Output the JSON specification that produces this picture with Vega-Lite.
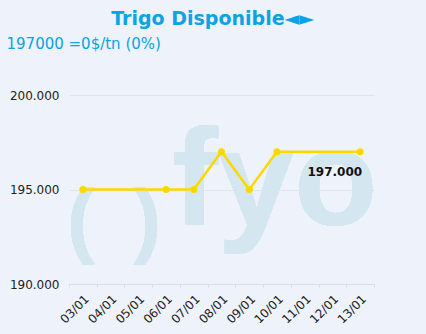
{
  "$schema": "https://vega.github.io/schema/vega-lite/v6.json",
  "autosize": "none",
  "width": 305,
  "height": 189,
  "padding": {"left": 69, "top": 95, "right": 52, "bottom": 50},
  "background": "#eef2fa",
  "title": {
    "text": "Trigo Disponible◄►",
    "frame": "group",
    "anchor": "middle",
    "baseline": "alphabetic",
    "offset": 0,
    "dx": -9,
    "dy": 8,
    "font": "DejaVu Sans",
    "fontSize": 19,
    "fontWeight": "bold",
    "color": "#0aa3e3"
  },
  "data": {
    "values": [
      {"date": "03/01", "price": 195000},
      {"date": "06/01", "price": 195000},
      {"date": "07/01", "price": 195000},
      {"date": "08/01", "price": 197000},
      {"date": "09/01", "price": 195000},
      {"date": "10/01", "price": 197000},
      {"date": "13/01", "price": 197000}
    ]
  },
  "encoding": {
    "x": {
      "field": "date",
      "type": "ordinal",
      "scale": {"type": "band", "paddingInner": 0, "paddingOuter": 0,
        "domain": ["03/01","04/01","05/01","06/01","07/01","08/01","09/01","10/01","11/01","12/01","13/01"]},
      "axis": {
        "title": null,
        "labelAngle": -45,
        "tickBand": "extent",
        "tickSize": 3,
        "tickColor": "#dcdcdc",
        "domainColor": "#dcdcdc",
        "grid": false,
        "labelFont": "DejaVu Sans",
        "labelFontSize": 12,
        "labelColor": "#222222",
        "labelPadding": 6
      }
    },
    "y": {
      "field": "price",
      "type": "quantitative",
      "scale": {"domain": [190000, 200000], "nice": false, "zero": false},
      "axis": {
        "title": "197000 =0$/tn (0%)",
        "titleAngle": 0,
        "titleAlign": "left",
        "titleBaseline": "alphabetic",
        "titleX": -63,
        "titleY": -47,
        "titleFont": "DejaVu Sans",
        "titleFontSize": 15,
        "titleFontWeight": "normal",
        "titleColor": "#0aa3e3",
        "values": [190000, 195000, 200000],
        "format": ",.0f",
        "domain": false,
        "ticks": false,
        "grid": true,
        "gridColor": "#e2e4ea",
        "labelFont": "DejaVu Sans",
        "labelFontSize": 12,
        "labelColor": "#222222",
        "labelPadding": 10
      }
    }
  },
  "layer": [
    {
      "mark": {"type": "text", "text": "(", "font": "Liberation Sans", "fontSize": 84, "fontWeight": "bold", "color": "#d4e6f0", "align": "center", "baseline": "alphabetic", "dx": -2, "dy": 2},
      "encoding": {"x": {"datum": "03/01"}, "y": {"datum": 192000}}
    },
    {
      "mark": {"type": "text", "text": ")", "font": "Liberation Sans", "fontSize": 84, "fontWeight": "bold", "color": "#d4e6f0", "align": "center", "baseline": "alphabetic", "dx": 9, "dy": 2},
      "encoding": {"x": {"datum": "05/01"}, "y": {"datum": 192000}}
    },
    {
      "mark": {"type": "text", "text": "fyo", "font": "Liberation Sans", "fontSize": 137, "fontWeight": "bold", "color": "#d4e6f0", "align": "center", "baseline": "alphabetic", "dx": -2},
      "encoding": {"x": {"datum": "10/01"}, "y": {"datum": 193100}}
    },
    {
      "mark": {"type": "line", "color": "#ffd700", "strokeWidth": 2.5}
    },
    {
      "mark": {"type": "point", "filled": true, "color": "#ffd700", "size": 50, "opacity": 1}
    },
    {
      "transform": [{"filter": "datum.date == '13/01'"}],
      "mark": {"type": "text", "align": "right", "baseline": "alphabetic", "dx": 2, "dy": 24, "font": "DejaVu Sans", "fontSize": 12, "fontWeight": "bold", "color": "#111111"},
      "encoding": {"text": {"field": "price", "type": "quantitative", "format": ",.0f"}}
    }
  ],
  "config": {
    "view": {"stroke": null},
    "locale": {"number": {"decimal": ",", "thousands": ".", "grouping": [3], "currency": ["$", ""]}}
  }
}
